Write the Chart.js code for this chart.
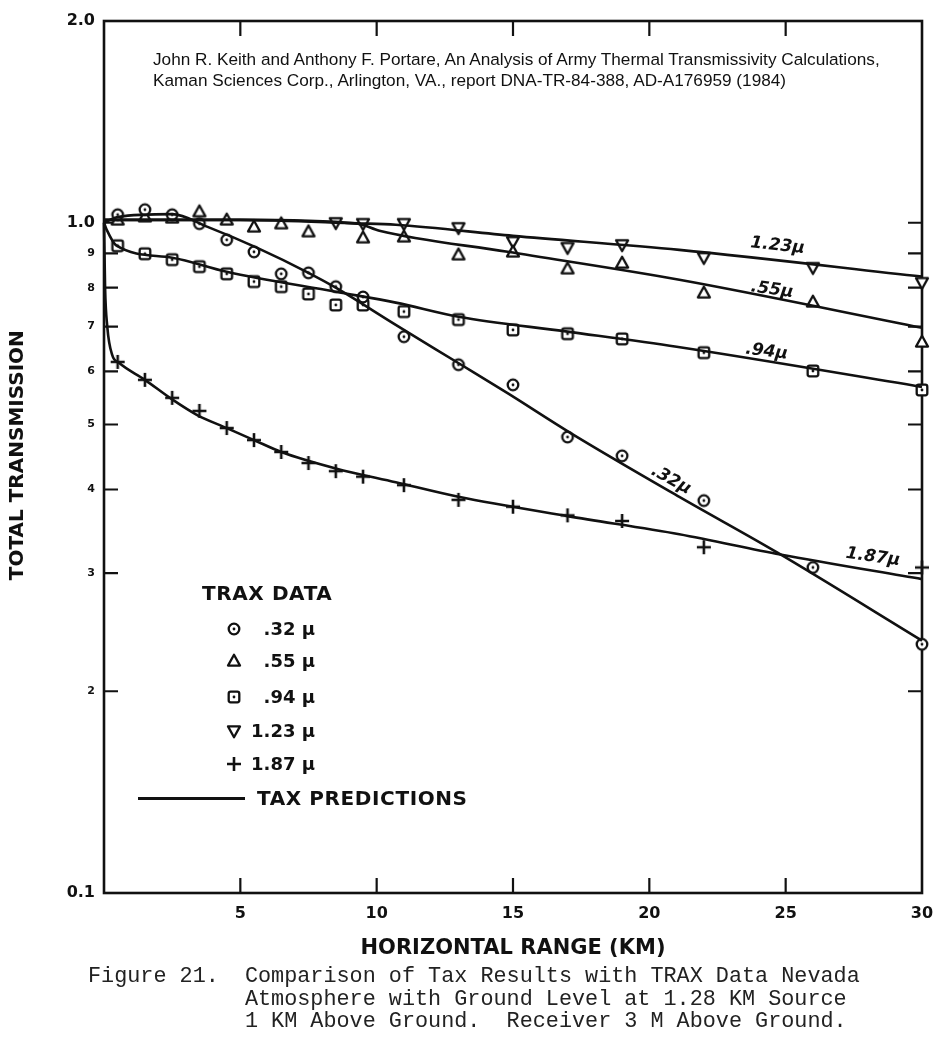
<!DOCTYPE html>
<html>
<head>
<meta charset="utf-8">
<script src="https://cdn.jsdelivr.net/npm/chart.js@4.4.1/dist/chart.umd.min.js"></script>
<style>
  body { margin: 0; background: #fff; }
  #wrap { position: relative; width: 940px; height: 1038px; overflow: hidden; }
  #cite { position: absolute; left: 153px; top: 49px; font: 17.2px "Liberation Sans", Arial, sans-serif; line-height: 21px; color: #111; white-space: nowrap; }
  #caption { position: absolute; left: 88px; top: 966px; font: 21.8px "Liberation Mono", monospace; line-height: 22.5px; color: #222; white-space: pre; }
  .leg { position: absolute; font: bold 18px "DejaVu Sans", sans-serif; color: #111; white-space: nowrap; }
  .head { font-size: 20px; letter-spacing: 0.6px; }
</style>
</head>
<body>
<div id="wrap">
  <canvas id="chart" width="940" height="1038"></canvas>
  <div id="cite">John R. Keith and Anthony F. Portare, An Analysis of Army Thermal Transmissivity Calculations,<br>Kaman Sciences Corp., Arlington, VA., report DNA-TR-84-388, AD-A176959 (1984)</div>
  <div id="legend"></div>
  <div id="caption">Figure 21.  Comparison of Tax Results with TRAX Data Nevada
            Atmosphere with Ground Level at 1.28 KM Source
            1 KM Above Ground.  Receiver 3 M Above Ground.</div>
</div>
<script>
// TRAX measurements (km, total transmission); null = no point at that range
const traxRangeKm = [0.5, 1.5, 2.5, 3.5, 4.5, 5.5, 6.5, 7.5, 8.5, 9.5, 11, 13, 15, 17, 19, 22, 26, 30];
const trax032 = [1.028, 1.046, 1.028, 0.997, 0.943, 0.905, 0.839, 0.842, 0.803, 0.775, 0.676, 0.614, 0.573, 0.479, 0.449, 0.385, 0.306, 0.235];
const trax055 = [1.01, 1.021, 1.017, 1.039, 1.01, 0.986, 0.997, 0.970, null, 0.950, 0.953, 0.896, 0.905, 0.854, 0.871, 0.786, 0.762, 0.664];
const trax094 = [0.924, 0.899, 0.881, 0.860, 0.839, 0.817, 0.803, 0.783, 0.754, 0.754, 0.737, 0.717, 0.692, 0.683, 0.671, 0.640, 0.601, 0.563];
const trax123 = [null, null, null, null, null, null, null, null, 1.0, 0.997, 0.997, 0.983, 0.937, 0.918, 0.927, 0.887, 0.857, 0.814];
const trax187 = [0.620, 0.583, 0.548, 0.524, 0.494, 0.474, 0.455, 0.438, 0.426, 0.418, 0.406, 0.386, 0.377, 0.366, 0.359, 0.328, null, 0.306];

// TAX prediction curves
const tax032Km = [0, 0.5, 2.5, 3.8, 5.6, 7.5, 8.5, 10.7, 13.1, 14.8, 17.1, 21.1, 24.7, 30];
const tax032 = [1.0, 1.02, 1.03, 0.986, 0.918, 0.842, 0.80, 0.704, 0.614, 0.557, 0.486, 0.390, 0.322, 0.238];
const tax055Km = [0, 5, 9.3, 10.1, 14.8, 21.1, 30];
const tax055 = [1.01, 1.01, 0.997, 0.973, 0.905, 0.822, 0.697];
const tax094Km = [0, 0.1, 0.45, 2.5, 4.5, 8.5, 10.7, 13, 17, 21, 30];
const tax094 = [1.0, 0.976, 0.925, 0.887, 0.845, 0.789, 0.76, 0.724, 0.688, 0.653, 0.569];
const tax123Km = [0, 5, 9.3, 10.7, 15, 21.1, 30];
const tax123 = [1.01, 1.01, 0.998, 0.993, 0.956, 0.911, 0.831];
const tax187Km = [0, 0.04, 0.12, 0.3, 0.55, 1.5, 2.5, 3.4, 4.5, 5.5, 6.5, 8.5, 10.7, 13, 17, 21.1, 24.8, 30];
const tax187 = [1.0, 0.80, 0.70, 0.635, 0.618, 0.583, 0.545, 0.517, 0.494, 0.474, 0.455, 0.43, 0.41, 0.39, 0.365, 0.343, 0.32, 0.294];

const xTickValues = [5, 10, 15, 20, 25, 30];
const yTickValues = [0.1, 0.2, 0.3, 0.4, 0.5, 0.6, 0.7, 0.8, 0.9, 1.0, 2.0];
const yTickLabels = ['0.1', '2', '3', '4', '5', '6', '7', '8', '9', '1.0', '2.0'];

const seriesNames = ['.32 μ', '.55 μ', '.94 μ', '1.23 μ', '1.87 μ'];
const curveLabels = ['.32μ', '.55μ', '.94μ', '1.23μ', '1.87μ'];
const curveLabelKm = [20.8, 24.5, 24.3, 24.7, 28.2];
const curveLabelValue = [0.413, 0.794, 0.642, 0.924, 0.317];
const curveLabelAngle = [29, 8, 7, 6, 8];

const INK = '#111';

/**
 * draws one TRAX marker centred on cx, cy
 */
function drawSymbol(g, kind, cx, cy) {
    g.save();
    g.strokeStyle = INK;
    g.fillStyle = '#fff';
    g.lineWidth = 2.3;
    g.lineJoin = 'round';
    g.beginPath();
    if (kind === 'circle') {
        g.arc(cx, cy, 5.3, 0, Math.PI * 2);
    } else if (kind === 'triangle') {
        g.moveTo(cx, cy - 6.2); g.lineTo(cx + 6, cy + 4.6); g.lineTo(cx - 6, cy + 4.6); g.closePath();
    } else if (kind === 'invtriangle') {
        g.moveTo(cx, cy + 6.2); g.lineTo(cx + 6, cy - 4.6); g.lineTo(cx - 6, cy - 4.6); g.closePath();
    } else if (kind === 'square') {
        g.roundRect(cx - 5.3, cy - 5.3, 10.6, 10.6, 2);
    }
    if (kind === 'plus') {
        g.lineWidth = 2.6;
        g.moveTo(cx - 7, cy); g.lineTo(cx + 7, cy);
        g.moveTo(cx, cy - 7); g.lineTo(cx, cy + 7);
        g.stroke();
    } else {
        g.fill();
        g.stroke();
    }
    if (kind === 'circle' || kind === 'square') {
        g.fillStyle = INK;
        g.beginPath();
        g.arc(cx, cy, 1.4, 0, Math.PI * 2);
        g.fill();
    }
    g.restore();
}

function symbolCanvas(kind) {
    const c = document.createElement('canvas');
    c.width = 18;
    c.height = 18;
    drawSymbol(c.getContext('2d'), kind, 9, 9);
    return c;
}

const symbolKinds = ['circle', 'triangle', 'square', 'invtriangle', 'plus'];
const traxSeries = [trax032, trax055, trax094, trax123, trax187];
const taxKm = [tax032Km, tax055Km, tax094Km, tax123Km, tax187Km];
const taxSeries = [tax032, tax055, tax094, tax123, tax187];

function toPoints(xs, ys) {
    let pts = [];
    for (let i = 0; i < xs.length; i++) {
        if (ys[i] !== null) pts.push({ x: xs[i], y: ys[i] });
    }
    return pts;
}

let datasets = [];
for (let i = 0; i < taxSeries.length; i++) {
    datasets.push({
        label: 'TAX ' + seriesNames[i],
        data: toPoints(taxKm[i], taxSeries[i]),
        showLine: true,
        borderColor: INK,
        borderWidth: 2.6,
        pointRadius: 0,
        cubicInterpolationMode: 'monotone',
        clip: false
    });
}
for (let i = 0; i < traxSeries.length; i++) {
    datasets.push({
        label: 'TRAX ' + seriesNames[i],
        data: toPoints(traxRangeKm, traxSeries[i]),
        showLine: false,
        pointStyle: symbolCanvas(symbolKinds[i]),
        pointRadius: 9,
        clip: false
    });
}

/**
 * frame round the plot with inward tick marks, the labels on the curves and the y title
 */
const framePlugin = {
    id: 'frame',
    beforeDatasetsDraw(chart) {
        const { ctx, chartArea: a, scales } = chart;
        ctx.save();
        ctx.strokeStyle = INK;
        ctx.lineWidth = 2.6;
        ctx.strokeRect(a.left, a.top, a.right - a.left, a.bottom - a.top);
        ctx.lineWidth = 2.2;
        ctx.beginPath();
        for (const v of xTickValues.slice(0, -1)) {
            const px = scales.x.getPixelForValue(v);
            ctx.moveTo(px, a.top); ctx.lineTo(px, a.top + 15);
            ctx.moveTo(px, a.bottom); ctx.lineTo(px, a.bottom - 15);
        }
        for (const v of yTickValues.slice(1, -1)) {
            const py = scales.y.getPixelForValue(v);
            ctx.moveTo(a.left, py); ctx.lineTo(a.left + 14, py);
            ctx.moveTo(a.right, py); ctx.lineTo(a.right - 14, py);
        }
        ctx.stroke();

        // y axis title, sitting a little above the middle as in the figure
        ctx.fillStyle = INK;
        ctx.font = 'bold 20px "DejaVu Sans"';
        ctx.textAlign = 'center';
        ctx.textBaseline = 'middle';
        ctx.translate(18, scales.y.getPixelForValue(0.45));
        ctx.rotate(-Math.PI / 2);
        ctx.fillText('TOTAL TRANSMISSION', 0, 0);
        ctx.restore();
    },
    afterDatasetsDraw(chart) {
        const { ctx, scales } = chart;
        ctx.save();
        ctx.fillStyle = INK;
        ctx.font = 'italic bold 17px "DejaVu Sans"';
        ctx.textAlign = 'center';
        ctx.textBaseline = 'middle';
        for (let i = 0; i < curveLabels.length; i++) {
            ctx.save();
            ctx.translate(scales.x.getPixelForValue(curveLabelKm[i]), scales.y.getPixelForValue(curveLabelValue[i]));
            ctx.rotate(curveLabelAngle[i] * Math.PI / 180);
            ctx.fillText(curveLabels[i], 0, 0);
            ctx.restore();
        }
        ctx.restore();
    }
};

Chart.defaults.font.family = '"DejaVu Sans", sans-serif';
Chart.defaults.color = INK;

new Chart(document.getElementById('chart'), {
    type: 'scatter',
    data: { datasets: datasets },
    options: {
        responsive: false,
        animation: false,
        layout: { padding: { left: 0, right: 18, top: 21, bottom: 77 } },
        plugins: { legend: { display: false }, tooltip: { enabled: false } },
        scales: {
            x: {
                type: 'linear',
                min: 0,
                max: 30,
                afterBuildTicks: (scale) => { scale.ticks = xTickValues.map(v => ({ value: v })); },
                afterFit: (scale) => { scale.height = 68; scale.paddingLeft = 0; scale.paddingRight = 0; },
                grid: { display: false, drawTicks: false },
                border: { display: false },
                ticks: { padding: 11, maxRotation: 0, font: { size: 16, weight: 'bold' } },
                title: { display: true, text: 'HORIZONTAL RANGE (KM)', font: { size: 21, weight: 'bold' }, padding: { top: 0, bottom: 0 } }
            },
            y: {
                type: 'logarithmic',
                min: 0.1,
                max: 2.0,
                afterBuildTicks: (scale) => { scale.ticks = yTickValues.map(v => ({ value: v })); },
                afterFit: (scale) => { scale.width = 104; scale.paddingTop = 0; scale.paddingBottom = 0; },
                grid: { display: false, drawTicks: false },
                border: { display: false },
                ticks: {
                    padding: 9,
                    callback: (v) => yTickLabels[yTickValues.indexOf(v)],
                    font: (c) => {
                        const big = c.tick && (c.tick.value === 0.1 || c.tick.value === 1.0 || c.tick.value === 2.0);
                        return big ? { size: 16, weight: 'bold' } : { size: 11, weight: 'bold' };
                    }
                },
                title: { display: false }
            }
        }
    },
    plugins: [framePlugin]
});

/**
 * legend box inside the plot (TRAX DATA / TAX PREDICTIONS)
 */
const legendRowY = [629, 661, 697, 731, 764];
function renderLegend() {
    const box = document.getElementById('legend');
    let html = '<div class="leg head" style="left:202px;top:581px">TRAX DATA</div>';
    for (let i = 0; i < seriesNames.length; i++) {
        html += '<div class="leg" style="left:251px;width:64px;text-align:right;top:' + (legendRowY[i] - 11) + 'px">' + seriesNames[i] + '</div>';
    }
    html += '<div style="position:absolute;left:138px;top:797px;width:107px;height:2.6px;background:' + INK + '"></div>';
    html += '<div class="leg head" style="left:257px;top:786px">TAX PREDICTIONS</div>';
    box.innerHTML = html;
    for (let i = 0; i < symbolKinds.length; i++) {
        const c = symbolCanvas(symbolKinds[i]);
        c.style.position = 'absolute';
        c.style.left = (234 - 9) + 'px';
        c.style.top = (legendRowY[i] - 9) + 'px';
        box.appendChild(c);
    }
}
renderLegend();
</script>
</body>
</html>
